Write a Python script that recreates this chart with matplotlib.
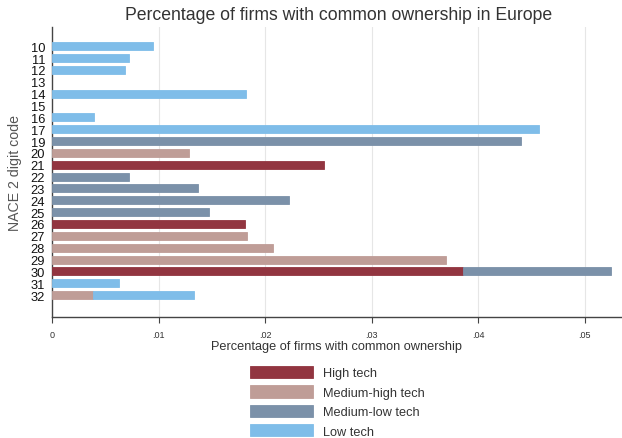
import matplotlib
matplotlib.use('Agg')
import matplotlib.pyplot as plt
import numpy as np

plt.rcParams['font.family'] = ['Liberation Sans', 'DejaVu Sans']

codes = ['10', '11', '12', '13', '14', '15', '16', '17', '19', '20', '21',
         '22', '23', '24', '25', '26', '27', '28', '29', '30', '31', '32']
nan = np.nan
# stacked shares by technology group (NaN = no value)
high_tech = [nan, nan, nan, nan, nan, nan, nan, nan, nan, nan, 0.0255,
             nan, nan, nan, nan, 0.0181, nan, nan, nan, 0.0386, nan, nan]
medium_high = [nan, nan, nan, nan, nan, nan, nan, nan, nan, 0.0129, nan,
               nan, nan, nan, nan, nan, 0.0183, 0.0207, 0.0370, nan, nan, 0.00385]
medium_low = [nan, nan, nan, nan, nan, nan, nan, nan, 0.0440, nan, nan,
              0.0072, 0.0137, 0.0222, 0.0147, nan, nan, nan, nan, 0.0139, nan, nan]
low_tech = [0.0095, 0.00725, 0.00685, nan, 0.0182, nan, 0.0039, 0.0457, nan, nan, nan,
            nan, nan, nan, nan, nan, nan, nan, nan, nan, 0.0063, 0.00945]

series = [('High tech', high_tech, '#923540'),
          ('Medium-high tech', medium_high, '#bf9d97'),
          ('Medium-low tech', medium_low, '#7b91a9'),
          ('Low tech', low_tech, '#7fbde9')]

fig = plt.figure(figsize=(6.22, 4.39), dpi=100)
ax = fig.add_axes([0.0836, 0.2756, 0.9164, 0.66])

y = np.arange(len(codes))
left = np.zeros(len(codes))
for name, vals, col in series:
    v = np.array(vals, dtype=float)
    ok = ~np.isnan(v)
    ax.barh(y[ok], v[ok], left=left[ok], height=0.68, color=col,
            edgecolor=col, linewidth=0.6, label=name, zorder=3)
    left[ok] += v[ok]

ax.set_ylim(len(codes) - 1 + 1.85, -1.6)
ax.set_xlim(0, 0.0535)
ax.set_yticks(y)
ax.set_yticklabels(codes, fontsize=9.3, color='#111111')
ax.tick_params(axis='y', length=0, pad=5)
xt = [0, 0.01, 0.02, 0.03, 0.04, 0.05]
ax.set_xticks(xt)
ax.set_xticklabels(['0', '.01', '.02', '.03', '.04', '.05'], fontsize=6.5, color='#333333')
ax.tick_params(axis='x', length=4, width=0.8, color='#444444', pad=5)
for t in xt[1:]:
    ax.axvline(t, color='#e6e6e6', linewidth=0.8, zorder=0)

for s in ['top', 'right']:
    ax.spines[s].set_visible(False)
for s in ['left', 'bottom']:
    ax.spines[s].set_color('#444444')
    ax.spines[s].set_linewidth(1.0)

ax.set_xlabel('Percentage of firms with common ownership', fontsize=9.2,
              color='#333333', labelpad=1)
ax.set_ylabel('NACE 2 digit code', fontsize=10.2, color='#555555', labelpad=6)
fig.suptitle('Percentage of firms with common ownership in Europe', x=0.545, y=0.983,
             fontsize=12.7, color='#333333')

fig.legend(loc='upper left', bbox_to_anchor=(0.402, 0.164), frameon=False,
           fontsize=9.2, handlelength=4.9, handleheight=1.1, handletextpad=0.78,
           labelspacing=0.46, borderpad=0, borderaxespad=0, labelcolor='#333333')

fig.savefig('out.png', dpi=100)
